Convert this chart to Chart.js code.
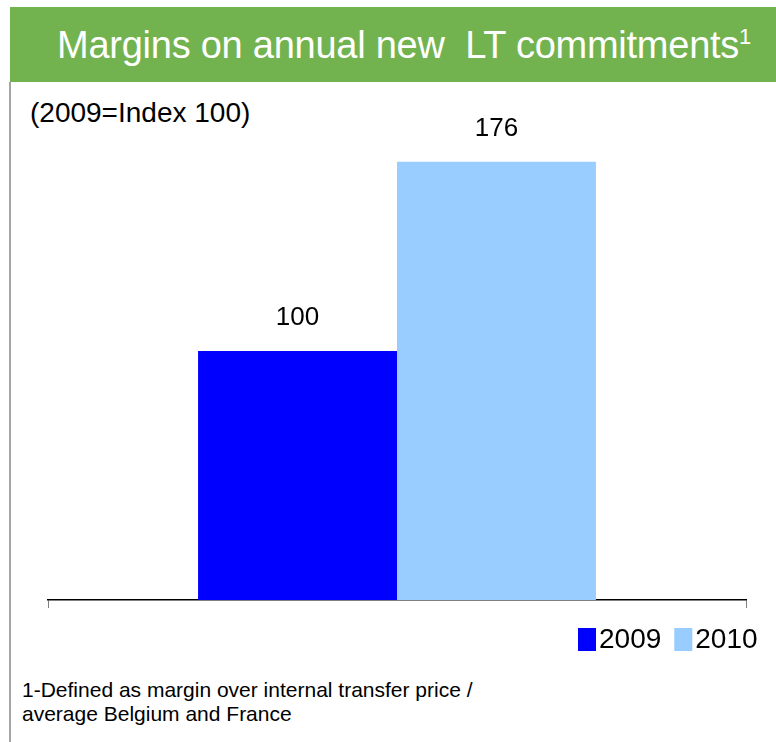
<!DOCTYPE html>
<html>
<head>
<meta charset="utf-8">
<script src="https://cdn.jsdelivr.net/npm/chart.js@4"></script>
<style>
  body { margin: 0; background: #fff; font-family: "Liberation Sans", Arial, sans-serif; }
  #wrap { position: relative; width: 776px; height: 742px; overflow: hidden; }
  #head { position: absolute; left: 10px; top: 7px; width: 766px; height: 75px; background: #72b350; }
  #head span { position: absolute; left: 47px; top: 16px; color: #fff; font-size: 38px; line-height: 44px; letter-spacing: -0.25px; white-space: pre; }
  #head sup { font-size: 22px; vertical-align: 14px; line-height: 0; }
  #edge { position: absolute; left: 9px; top: 82px; width: 2px; height: 660px; background: #a6a6a6; }
  #sub { position: absolute; left: 30px; top: 98px; font-size: 28px; line-height: 30px; color: #000; }
  #note { position: absolute; left: 22px; top: 678px; font-size: 21px; line-height: 24px; color: #000; }
  #c { position: absolute; left: 0; top: 0; }
</style>
</head>
<body>
<div id="wrap">
  <div id="head"><span>Margins on annual new  LT commitments<sup>1</sup></span></div>
  <div id="edge"></div>
  <div id="sub">(2009=Index 100)</div>
  <div id="note">1-Defined as margin over internal transfer price /<br>average Belgium and France</div>
  <canvas id="c" width="776" height="742"></canvas>
</div>
<script>
const categories = [''];
const years = ['2009', '2010'];
const values2009 = [100];
const values2010 = [176];
const colors = ['#0000ff', '#99ccff'];

// value labels above each bar
const barLabels = {
  id: 'barLabels',
  afterDatasetsDraw(chart) {
    const ctx = chart.ctx;
    ctx.save();
    ctx.fillStyle = '#000';
    ctx.font = '26px "Liberation Sans", Arial, sans-serif';
    ctx.textAlign = 'center';
    ctx.textBaseline = 'middle';
    chart.data.datasets.forEach((ds, i) => {
      chart.getDatasetMeta(i).data.forEach((bar, j) => {
        ctx.fillText(ds.data[j], bar.x, bar.y - 33);
      });
    });
    ctx.restore();
  }
};

// legend drawn at bottom right
const legendRight = {
  id: 'legendRight',
  afterDraw(chart) {
    const ctx = chart.ctx;
    ctx.save();
    ctx.font = '28px "Liberation Sans", Arial, sans-serif';
    ctx.textBaseline = 'middle';
    let x = 578;
    const y = 640;
    chart.data.datasets.forEach((ds) => {
      ctx.fillStyle = ds.backgroundColor;
      ctx.fillRect(x, y - 12, 18, 23);
      ctx.fillStyle = '#000';
      ctx.fillText(ds.label, x + 21, y);
      x += 21 + ctx.measureText(ds.label).width + 13;
    });
    ctx.restore();
  }
};

const ctx = document.getElementById('c').getContext('2d');
new Chart(ctx, {
  type: 'bar',
  data: {
    labels: categories,
    datasets: [
      { label: years[0], data: values2009, backgroundColor: colors[0] },
      { label: years[1], data: values2010, backgroundColor: colors[1] }
    ]
  },
  options: {
    responsive: false,
    animation: false,
    layout: { padding: { left: 48, right: 30, top: 102, bottom: 134 } },
    datasets: { bar: { categoryPercentage: 0.57, barPercentage: 1 } },
    plugins: {
      legend: { display: false },
      tooltip: { enabled: false }
    },
    scales: {
      x: {
        grid: { display: true, drawOnChartArea: false, drawTicks: true, tickLength: 8, color: '#808080', offset: true },
        border: { display: true, color: '#000', width: 1.5 },
        ticks: { display: false }
      },
      y: {
        display: false,
        min: 0,
        max: 200
      }
    }
  },
  plugins: [barLabels, legendRight]
});
</script>
</body>
</html>
